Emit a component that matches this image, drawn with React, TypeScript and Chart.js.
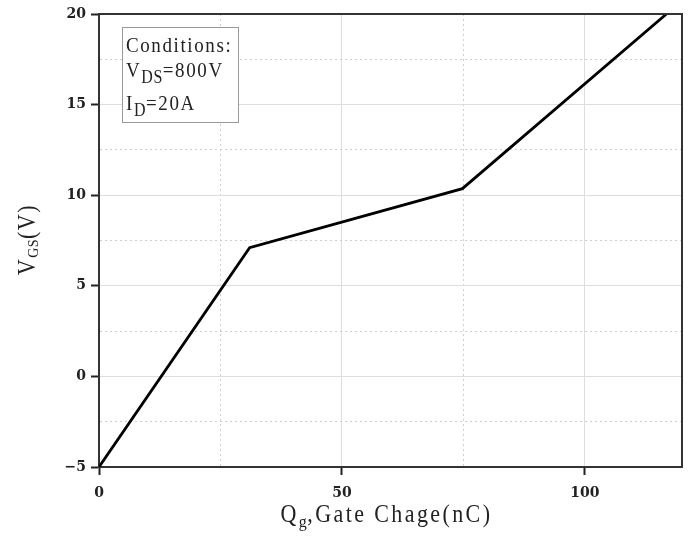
import { useEffect, useRef } from "react";
import { Chart, registerables } from "chart.js";

Chart.register(...registerables);

// Gate charge curve
const gateCharge = [0, 31, 74.8, 116.8]; // Qg, nC
const gateVoltage = [-5, 7.1, 10.36, 20]; // VGS, V

const xTickLabels = [0, 50, 100];
const yTickLabels = [-5, 0, 5, 10, 15, 20];

type Seg = { t: string; sub?: boolean };
const conditionLines: Seg[][] = [
  [{ t: "Conditions:" }],
  [{ t: "V" }, { t: "DS", sub: true }, { t: "=800V" }],
  [{ t: "I" }, { t: "D", sub: true }, { t: "=20A" }],
];
const xTitle: Seg[] = [{ t: "Q" }, { t: "g", sub: true }, { t: ",Gate Chage(nC)" }];
const yTitle: Seg[] = [{ t: "V" }, { t: "GS", sub: true }, { t: "(V)" }];

const FONT = '"Liberation Serif", "DejaVu Serif", serif';

type Style = { size: number; subSize: number; subDrop: number; sy: number; ls: number; subLs: number };

function setFont(ctx: CanvasRenderingContext2D, s: Seg, st: Style) {
  ctx.font = `${s.sub ? st.subSize : st.size}px ${FONT}`;
  (ctx as any).letterSpacing = `${s.sub ? st.subLs : st.ls}px`;
}

function richWidth(ctx: CanvasRenderingContext2D, segs: Seg[], st: Style) {
  let w = 0;
  for (const s of segs) {
    setFont(ctx, s, st);
    w += ctx.measureText(s.t).width;
  }
  return w;
}

function drawRich(ctx: CanvasRenderingContext2D, segs: Seg[], x: number, y: number, st: Style) {
  let cx = x;
  for (const s of segs) {
    setFont(ctx, s, st);
    ctx.save();
    ctx.translate(cx, y + (s.sub ? st.subDrop : 0));
    ctx.scale(1, st.sy);
    ctx.fillText(s.t, 0, 0);
    ctx.restore();
    cx += ctx.measureText(s.t).width;
  }
  (ctx as any).letterSpacing = "0px";
}

const boxStyle: Style = { size: 19, subSize: 16, subDrop: 6, sy: 1.15, ls: 1.6, subLs: 0.5 };
const titleStyle: Style = { size: 22, subSize: 16, subDrop: 5, sy: 1.1, ls: 2.4, subLs: 0.5 };

const decorPlugin = {
  id: "decor",
  afterDraw(chart: any) {
    const ctx: CanvasRenderingContext2D = chart.ctx;
    const a = chart.chartArea;
    ctx.save();
    // top and right frame
    ctx.strokeStyle = "#333";
    ctx.lineWidth = 2;
    ctx.beginPath();
    ctx.moveTo(a.left, a.top);
    ctx.lineTo(a.right, a.top);
    ctx.lineTo(a.right, a.bottom);
    ctx.stroke();

    // conditions box
    const bx = a.left + 23.5;
    const by = a.top + 13.5;
    ctx.fillStyle = "#fff";
    ctx.fillRect(bx, by, 116, 95);
    ctx.strokeStyle = "#999";
    ctx.lineWidth = 1;
    ctx.strokeRect(bx, by, 116, 95);
    ctx.fillStyle = "#222";
    ctx.textAlign = "left";
    ctx.textBaseline = "alphabetic";
    const baselines = [38, 63, 96];
    conditionLines.forEach((line, i) => {
      drawRich(ctx, line, a.left + 27, a.top + baselines[i], boxStyle);
    });

    // x title
    const xw = richWidth(ctx, xTitle, titleStyle);
    const cx = (a.left + a.right) / 2 - 4;
    drawRich(ctx, xTitle, cx - xw / 2, a.bottom + 55, titleStyle);

    // y title
    const yw = richWidth(ctx, yTitle, titleStyle);
    const cy = (a.top + a.bottom) / 2 - 4;
    ctx.translate(35, cy);
    ctx.rotate(-Math.PI / 2);
    drawRich(ctx, yTitle, -yw / 2, 0, { ...titleStyle, subSize: 14, subDrop: 3, ls: 1.5 });
    ctx.restore();
  },
};

const isMajor = (list: number[], v: number) => list.some((m) => Math.abs(m - v) < 1e-6);

export default function App() {
  const ref = useRef<HTMLCanvasElement | null>(null);

  useEffect(() => {
    document.body.style.margin = "0";
    const canvas = ref.current;
    if (!canvas) return;
    const tickFont = { family: '"DejaVu Serif", serif', size: 14, weight: "bold" as const };
    const chart = new Chart(canvas, {
      type: "scatter",
      data: {
        datasets: [
          {
            data: gateCharge.map((x, i) => ({ x, y: gateVoltage[i] })),
            showLine: true,
            borderColor: "#000",
            borderWidth: 2.8,
            pointRadius: 0,
            tension: 0,
          },
        ],
      },
      options: {
        animation: false,
        responsive: true,
        maintainAspectRatio: false,
        layout: { padding: { top: 14, right: 7, left: 0, bottom: 0 } },
        plugins: { legend: { display: false }, tooltip: { enabled: false } },
        scales: {
          x: {
            type: "linear",
            min: 0,
            max: 120,
            afterFit: (s: any) => {
              s.height = 73;
              s.paddingLeft = 0;
              s.paddingRight = 0;
            },
            ticks: {
              stepSize: 25,
              autoSkip: false,
              maxRotation: 0,
              padding: 10,
              color: "#222",
              font: tickFont,
              callback: (v: any) => (isMajor(xTickLabels, Number(v)) ? String(v) : ""),
            },
            grid: {
              color: (c: any) => (isMajor(xTickLabels, c.tick?.value) ? "#dedede" : "#cfcfcf"),
              lineWidth: 1,
              tickLength: 8,
              tickWidth: 2,
              tickColor: (c: any) => (isMajor(xTickLabels, c.tick?.value) ? "#222" : "rgba(0,0,0,0)"),
            },
            border: {
              color: "#333",
              width: 2,
              dash: (c: any) => (c.tick && !isMajor(xTickLabels, c.tick.value) ? [2, 3] : []),
            },
          },
          y: {
            type: "linear",
            min: -5,
            max: 20,
            afterFit: (s: any) => {
              s.width = 99;
              s.paddingTop = 0;
              s.paddingBottom = 0;
            },
            ticks: {
              stepSize: 2.5,
              autoSkip: false,
              padding: 5,
              color: "#222",
              font: tickFont,
              callback: (v: any) =>
                isMajor(yTickLabels, Number(v)) ? (Number(v) < 0 ? "\u2212" + Math.abs(Number(v)) : String(v)) : "",
            },
            grid: {
              color: (c: any) => (isMajor(yTickLabels, c.tick?.value) ? "#dedede" : "#cfcfcf"),
              lineWidth: 1,
              tickLength: 8,
              tickWidth: 2,
              tickColor: (c: any) => (isMajor(yTickLabels, c.tick?.value) ? "#222" : "rgba(0,0,0,0)"),
            },
            border: {
              color: "#333",
              width: 2,
              dash: (c: any) => (c.tick && !isMajor(yTickLabels, c.tick.value) ? [2, 3] : []),
            },
          },
        },
      },
      plugins: [decorPlugin],
    });
    return () => chart.destroy();
  }, []);

  return (
    <div style={{ width: 689, height: 540, position: "relative", background: "#fff" }}>
      <canvas ref={ref} />
    </div>
  );
}
